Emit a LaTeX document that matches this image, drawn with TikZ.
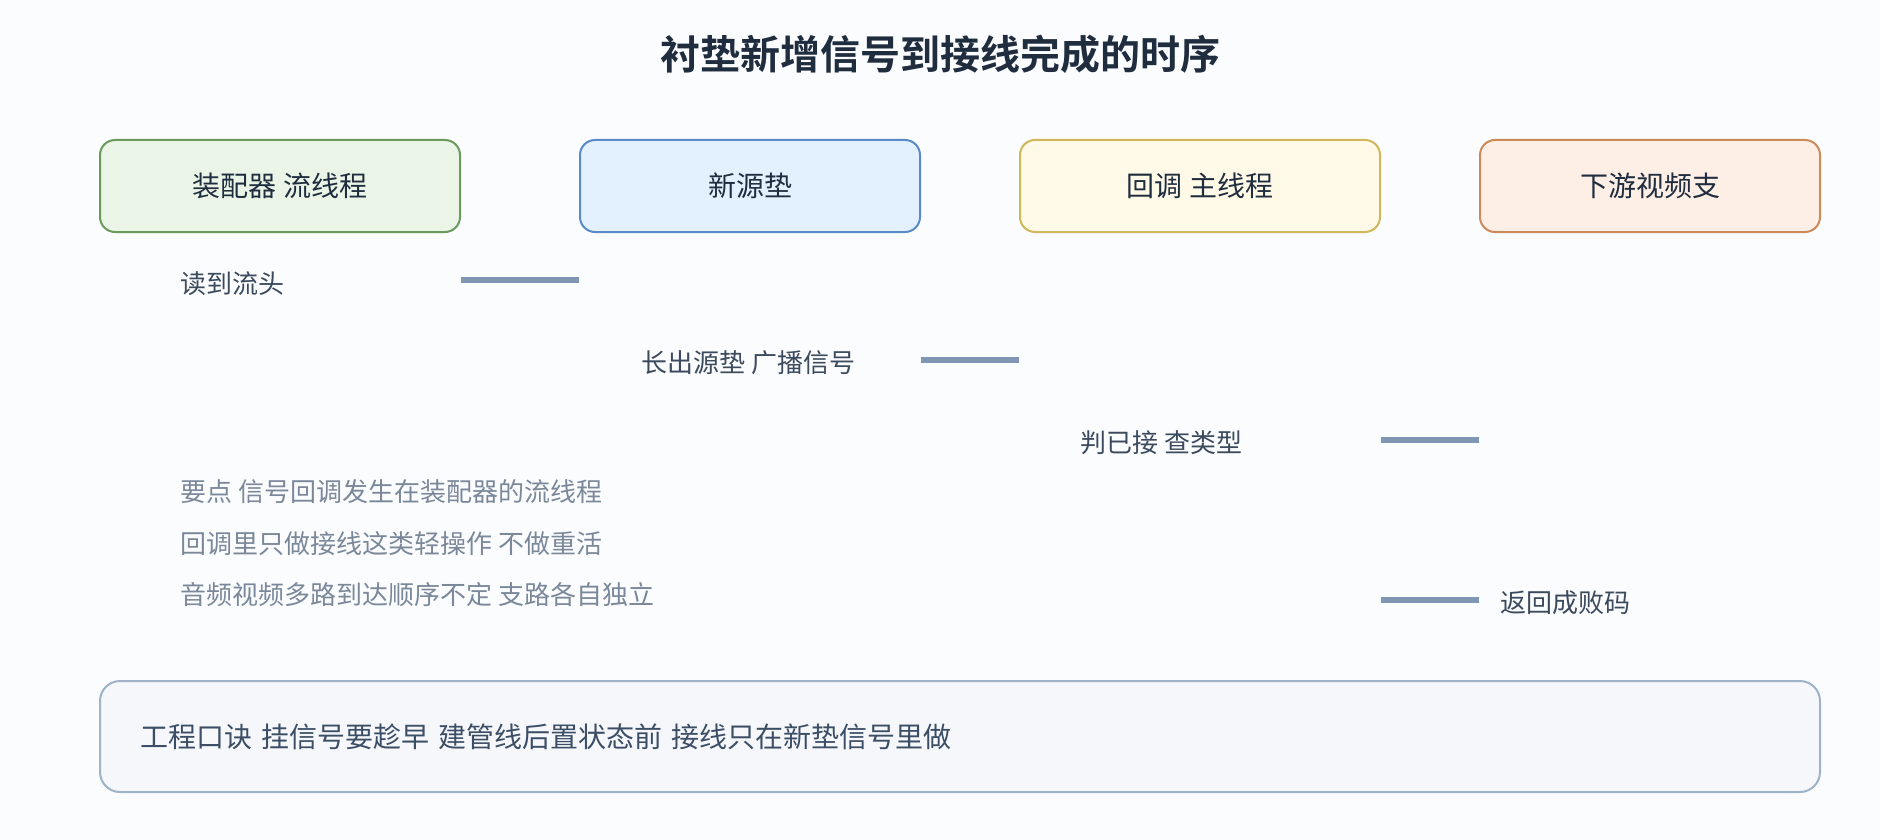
\documentclass[tikz,border=0pt]{standalone}
\usepackage{fontspec}
\setmainfont{Noto Sans CJK SC}[BoldFont={Noto Sans CJK SC Bold}]
\usetikzlibrary{positioning}
\definecolor{bgc}{HTML}{FBFCFE}
\definecolor{ink}{HTML}{1F2D3F}
\definecolor{labc}{HTML}{3B4A5D}
\definecolor{notec}{HTML}{7B889A}
\definecolor{segc}{HTML}{7F97B5}
\definecolor{asmfill}{HTML}{EAF5E7}
\definecolor{asmline}{HTML}{6A9A5E}
\definecolor{padfill}{HTML}{E3F0FE}
\definecolor{padline}{HTML}{5A8AC8}
\definecolor{cbfill}{HTML}{FFFAE8}
\definecolor{cbline}{HTML}{D0B85A}
\definecolor{vidfill}{HTML}{FDEEE6}
\definecolor{vidline}{HTML}{CF8A5A}
\definecolor{memofill}{HTML}{F5F7FA}
\definecolor{memoline}{HTML}{9FB3C8}
\definecolor{memotext}{HTML}{3C4E66}
\tikzstyle{lane} = [draw, rounded corners=15pt, line width=2pt, minimum height=92pt, text=ink, font=\fontsize{28}{34}\selectfont]
\tikzstyle{seg} = [line width=6pt, draw=segc]
\tikzstyle{steptext} = [anchor=west, inner sep=0pt, text=labc, font=\fontsize{26}{32}\selectfont]
\tikzstyle{note} = [anchor=west, inner sep=0pt, text=notec, font=\fontsize{26}{32}\selectfont]

\begin{document}
\begin{tikzpicture}[x=1pt,y=-1pt]
	\fill[bgc] (0,0) rectangle (1880,840);
	\useasboundingbox (0,0) rectangle (1880,840);
	\node[text=ink, font=\fontsize{40}{48}\selectfont\bfseries] (title) at (940,54) {衬垫新增信号到接线完成的时序};
	
	\node[lane, fill=asmfill, draw=asmline, minimum width=360pt] (asm) at (280,186) {装配器 流线程};
	\node[lane, fill=padfill, draw=padline, minimum width=340pt] (pad) at (750,186) {新源垫};
	\node[lane, fill=cbfill, draw=cbline, minimum width=360pt] (cb) at (1200,186) {回调 主线程};
	\node[lane, fill=vidfill, draw=vidline, minimum width=340pt] (vid) at (1650,186) {下游视频支};
	
	\node[steptext] (rd) at (180,284) {读到流头};
	\node[steptext] (grow) at (641,363) {长出源垫 广播信号};
	\node[steptext] (chk) at (1080,443) {判已接 查类型};
	\node[steptext] (ret) at (1500,603) {返回成败码};
	
	\draw[seg] (asm.east |- 0,280) -- (pad.west |- 0,280);
	\draw[seg] (pad.east |- 0,360) -- (cb.west |- 0,360);
	\draw[seg] (cb.east |- 0,440) -- (vid.west |- 0,440);
	\draw[seg] (cb.east |- 0,600) -- (vid.west |- 0,600);
	
	\node[note] (n1) at (180,492) {要点 信号回调发生在装配器的流线程};
	\node[note, below=52pt of n1.west, anchor=west] (n2) {回调里只做接线这类轻操作 不做重活};
	\node[note, below=51pt of n2.west, anchor=west] (n3) {音频视频多路到达顺序不定 支路各自独立};
	
	\node[draw=memoline, fill=memofill, line width=2pt, rounded corners=20pt, minimum width=1720pt, minimum height=111pt, text width=1640pt, align=left, inner xsep=40pt, text=memotext, font=\fontsize{28}{34}\selectfont] (memo) at (960,736.5) {工程口诀 挂信号要趁早 建管线后置状态前 接线只在新垫信号里做};
\end{tikzpicture}
\end{document}
